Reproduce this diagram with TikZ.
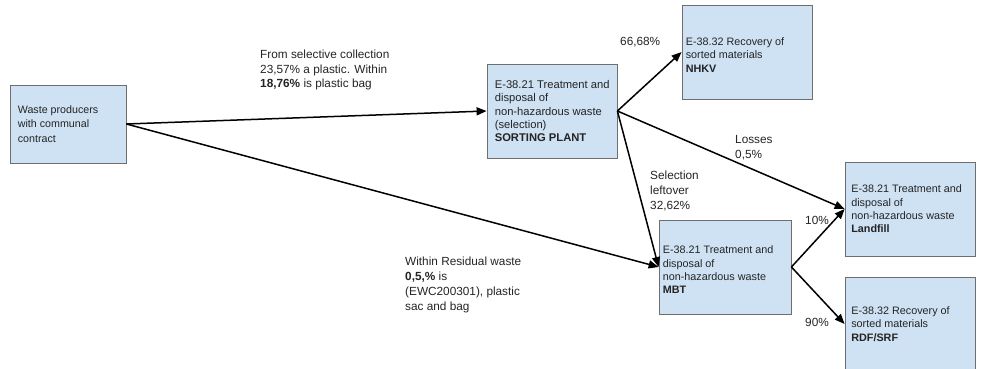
\documentclass[tikz,border=0pt]{standalone}
\usepackage{fontspec}
\setmainfont{Liberation Sans}
\usetikzlibrary{arrows.meta}
\definecolor{boxfill}{HTML}{CFE2F3}
\definecolor{boxline}{HTML}{6E6E6E}
\definecolor{ink}{HTML}{242424}
\begin{document}
\begin{tikzpicture}[x=1pt,y=-1pt,
  box/.style={draw=boxline, fill=boxfill, line width=0.8pt,
    minimum width=130pt, minimum height=94pt, inner sep=0pt},
  boxtext/.style={anchor=west, align=left, inner sep=0pt, text=ink,
    font=\fontsize{10.8}{13.3}\selectfont},
  flowlabel/.style={anchor=west, align=left, inner sep=0pt, text=ink,
    font=\fontsize{11.8}{14.8}\selectfont},
  flow/.style={line width=1.5pt, draw=black,
    -{Triangle[length=10pt,width=8pt]}}
]
\useasboundingbox (0,0) rectangle (982,369);

% process boxes
\node[box, minimum width=116pt, minimum height=78pt] (prod) at (68,124) {};
\node[boxtext, font=\fontsize{10.7}{14.5}\selectfont] (prodtxt)
  at ([xshift=8pt]prod.west) {Waste producers\\with communal\\contract};

\node[box] (sort) at (552,111) {};
\node[boxtext, font=\fontsize{11.2}{13.3}\selectfont] (sorttxt)
  at ([xshift=8pt]sort.west)
  {E-38.21 Treatment and\\disposal of\\non-hazardous waste\\(selection)\\\textbf{SORTING PLANT}};

\node[box] (nhkv) at (747,52) {};
\node[boxtext] (nhkvtxt) at ([xshift=4pt,yshift=-3pt]nhkv.west)
  {E-38.32 Recovery of\\sorted materials\\\textbf{NHKV}};

\node[box, minimum width=132pt] (mbt) at (725,267) {};
\node[boxtext] (mbttxt) at ([xshift=4pt,yshift=-3pt]mbt.west)
  {E-38.21 Treatment and\\disposal of\\non-hazardous waste\\\textbf{MBT}};

\node[box] (land) at (910,209) {};
\node[boxtext] (landtxt) at ([xshift=6.5pt]land.west)
  {E-38.21 Treatment and\\disposal of\\non-hazardous waste\\\textbf{Landfill}};

\node[box] (rdf) at (910,324) {};
\node[boxtext] (rdftxt) at ([xshift=6.5pt]rdf.west)
  {E-38.32 Recovery of\\sorted materials\\\textbf{RDF/SRF}};

% material flows
\draw[flow] (prod.east) -- (sort.west);
\draw[flow] (prod.east) -- (mbt.west);
\draw[flow] (sort.east) -- (nhkv.west);
\draw[flow] (sort.east) -- (land.west);
\draw[flow] (sort.east) -- (mbt.west);
\draw[flow] (mbt.east) -- (land.west);
\draw[flow] (mbt.east) -- (rdf.west);

% flow labels
\node[flowlabel] (selcoll) at (260,70)
  {From selective collection\\23,57\% a plastic. Within\\\textbf{18,76\%} is plastic bag};
\node[flowlabel] (share) at (620,42) {66,68\%};
\node[flowlabel] (loss) at (735,147.5) {Losses\\0,5\%};
\node[flowlabel] (leftover) at (650,191) {Selection\\leftover\\32,62\%};
\node[flowlabel] (tenp) at (805,220) {10\%};
\node[flowlabel] (ninety) at (805,322) {90\%};
\node[flowlabel] (resid) at (405,285)
  {Within Residual waste\\\textbf{0,5,\%} is\\(EWC200301), plastic\\sac and bag};
\end{tikzpicture}
\end{document}
